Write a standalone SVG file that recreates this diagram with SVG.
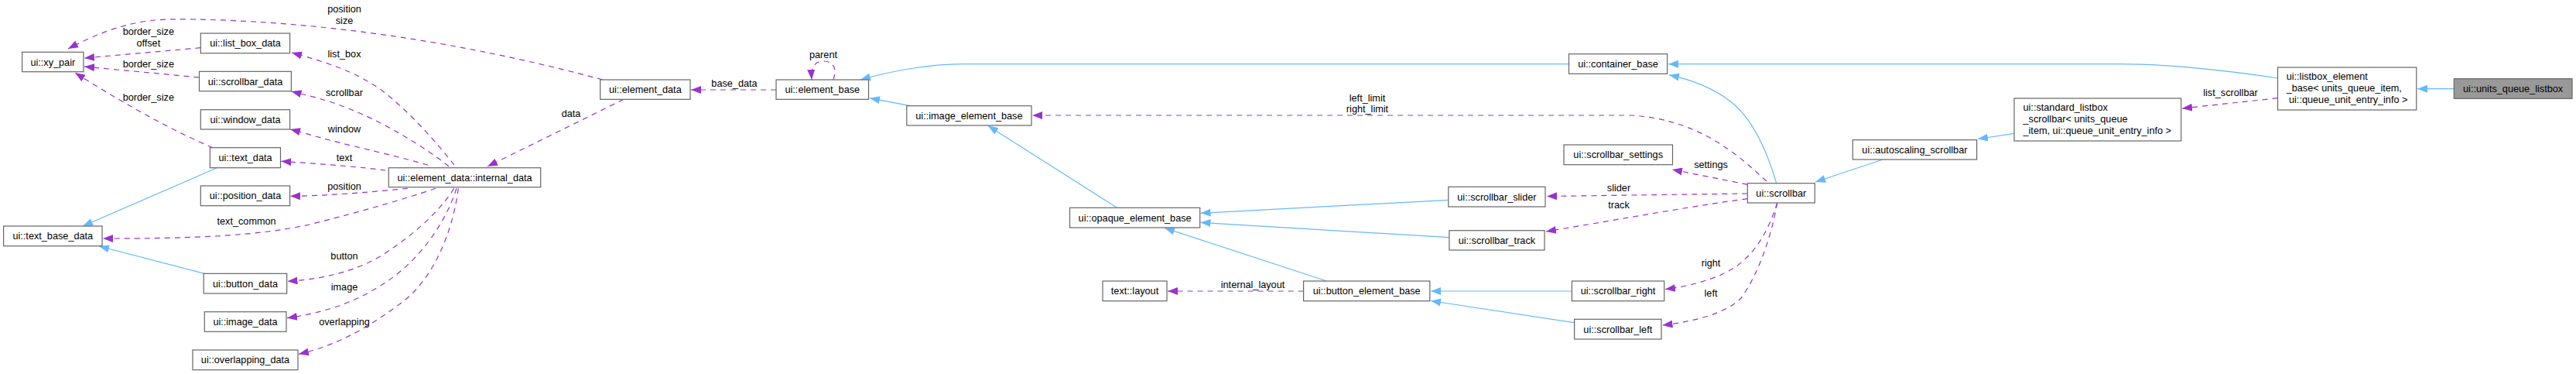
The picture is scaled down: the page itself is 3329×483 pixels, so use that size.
<svg xmlns="http://www.w3.org/2000/svg" width="3329" height="483" viewBox="0 0 3329 483">
<style>
.node rect{fill:#ffffff;stroke:#666666;stroke-width:1.2}
.node.cur rect{fill:#999999}
text{font-family:"Liberation Sans",Arial,Helvetica,sans-serif;font-size:12.7px;fill:#000000}
.c{text-anchor:middle}
.l{text-anchor:start}
.inh{fill:none;stroke:#63b8ff;stroke-width:1.2;marker-end:url(#ab)}
.col{fill:none;stroke:#9a32cd;stroke-width:1.2;stroke-dasharray:7,6;marker-end:url(#ap)}
</style>
<defs>
<marker id="ab" viewBox="0 0 13 10" refX="13" refY="5" markerWidth="13" markerHeight="10" markerUnits="userSpaceOnUse" orient="auto"><path d="M0,0 L13,5 L0,10 z" fill="#63b8ff"/></marker>
<marker id="ap" viewBox="0 0 13 10" refX="13" refY="5" markerWidth="13" markerHeight="10" markerUnits="userSpaceOnUse" orient="auto"><path d="M0,0 L13,5 L0,10 z" fill="#9a32cd"/></marker>
</defs>
<rect x="0" y="0" width="3329" height="483" fill="#ffffff"/>

<g id="edges">
<!-- inheritance -->
<path class="inh" d="M3171.3,114.7 L3124,114.7"/>
<path class="inh" d="M2943.5,101 C2880,91 2800,82.7 2740,82.7 L2156,82.7"/>
<path class="inh" d="M2027.5,82.7 L1244,82.7 C1200,82.7 1150,92 1112,103"/>
<path class="inh" d="M1176,136.7 L1124,126.7"/>
<path class="inh" d="M1443.5,268.3 L1277,162.5"/>
<path class="inh" d="M1871.8,258.3 L1551.5,275.3"/>
<path class="inh" d="M1872.9,306.7 L1551.5,287.3"/>
<path class="inh" d="M1714.6,363 L1505,294.5"/>
<path class="inh" d="M2031.4,376 L1849,376"/>
<path class="inh" d="M2034.6,416.7 L1849,388.5"/>
<path class="inh" d="M2295.7,236.7 C2282,190 2262,150 2235,130 C2215,115 2190,104 2157,96.7"/>
<path class="inh" d="M2433.3,206 L2346,235"/>
<path class="inh" d="M2603,172.3 L2556,179.5"/>
<path class="inh" d="M280.4,216.7 L107,292"/>
<path class="inh" d="M264.3,353.3 L128,318"/>
<!-- collaboration -->
<path class="col" d="M2943.5,126.7 L2820,140"/>
<path class="col" d="M2283,234 C2265,218 2245,198 2210,178 C2180,162 2150,152 2110,149 L1334,149"/>
<path class="col" d="M2258.3,238.3 L2161,219"/>
<path class="col" d="M2258.3,250 L1999,253.5"/>
<path class="col" d="M2258.3,256.7 C2200,264 2100,282 1998,299"/>
<path class="col" d="M2296.7,262 C2285,300 2265,335 2230,352 C2210,362 2182,370 2152,373.5"/>
<path class="col" d="M2296.7,262 C2290,300 2275,350 2250,385 C2230,405 2190,415 2148.5,420"/>
<path class="col" d="M1684.6,376 L1509,376"/>
<path class="col" d="M1003,116 L893,116"/>
<path class="col" d="M1076.8,103 C1082,90 1078,79 1064,79 C1052,79 1048,88 1049,103"/>
<path class="col" d="M806,128.3 L630,215"/>
<path class="col" d="M779,103 C600,55 420,28 250,25 C200,24 160,25 88,63"/>
<path class="col" d="M259.3,61.7 L109,75"/>
<path class="col" d="M257.5,100 L109,86"/>
<path class="col" d="M275,190.7 C230,172 170,140 97,94"/>
<path class="col" d="M587,213 C565,185 530,145 495,118 C460,92 420,80 377,68"/>
<path class="col" d="M580,215 C550,190 490,155 450,140 C420,128 400,124 376.5,118"/>
<path class="col" d="M553,213.3 C520,203 460,190 430,182 C410,177 395,172 375,167"/>
<path class="col" d="M498.3,220 C470,216 420,212 363.3,208.3"/>
<path class="col" d="M526.7,243.3 C480,248 420,253 375,253.3"/>
<path class="col" d="M563,243.3 C520,258 460,275 400,290 C330,305 250,308 133,308"/>
<path class="col" d="M586.7,243.3 C570,270 540,300 493,330 C460,350 420,360 371.5,363.3"/>
<path class="col" d="M590,243.3 C575,290 540,340 490,370 C450,395 410,405 371,410.7"/>
<path class="col" d="M592.3,243.3 C585,300 560,360 520,390 C480,420 440,445 386,457.3"/>
</g>

<g id="edge-labels">
<text class="c" x="445" y="16.2">position</text>
<text class="c" x="445" y="30.5">size</text>
<text class="c" x="191.8" y="45.2">border_size</text>
<text class="c" x="191.8" y="59.8">offset</text>
<text class="c" x="191.8" y="86.8">border_size</text>
<text class="c" x="191.8" y="129.5">border_size</text>
<text class="c" x="445" y="73.5">list_box</text>
<text class="c" x="445" y="123.8">scrollbar</text>
<text class="c" x="445" y="170.5">window</text>
<text class="c" x="445" y="207.8">text</text>
<text class="c" x="445" y="245.2">position</text>
<text class="c" x="318.6" y="289.5">text_common</text>
<text class="c" x="445" y="334.5">button</text>
<text class="c" x="445" y="374.5">image</text>
<text class="c" x="445" y="420.2">overlapping</text>
<text class="c" x="738" y="150.5">data</text>
<text class="c" x="949" y="111.8">base_data</text>
<text class="c" x="1064" y="75.2">parent</text>
<text class="c" x="1767" y="130.5">left_limit</text>
<text class="c" x="1767" y="144.8">right_limit</text>
<text class="c" x="1619" y="371.5">internal_layout</text>
<text class="c" x="2211" y="217.2">settings</text>
<text class="c" x="2092" y="246.8">slider</text>
<text class="c" x="2092" y="268.8">track</text>
<text class="c" x="2211" y="343.8">right</text>
<text class="c" x="2211" y="382.8">left</text>
<text class="c" x="2882.5" y="123.8">list_scrollbar</text>
</g>

<g id="n_xy_pair" class="node"><rect x="28.6" y="67.3" width="79.3" height="25.4"/><text class="c" x="68.3" y="84.5">ui::xy_pair</text></g>
<g id="n_list_box_data" class="node"><rect x="259.3" y="43" width="115.3" height="25.7"/><text class="c" x="317" y="60.4">ui::list_box_data</text></g>
<g id="n_scrollbar_data" class="node"><rect x="257.5" y="92.3" width="118.9" height="25.4"/><text class="c" x="317" y="109.5">ui::scrollbar_data</text></g>
<g id="n_window_data" class="node"><rect x="259.3" y="141.7" width="115.3" height="25.3"/><text class="c" x="317" y="158.8">ui::window_data</text></g>
<g id="n_text_data" class="node"><rect x="271.4" y="190.7" width="91.1" height="26"/><text class="c" x="317" y="208.2">ui::text_data</text></g>
<g id="n_position_data" class="node"><rect x="259.3" y="240" width="115.3" height="25.7"/><text class="c" x="317" y="257.4">ui::position_data</text></g>
<g id="n_text_base_data" class="node"><rect x="4.6" y="292" width="127.4" height="25.7"/><text class="c" x="68.3" y="309.4">ui::text_base_data</text></g>
<g id="n_button_data" class="node"><rect x="263.2" y="353.3" width="107.5" height="25.7"/><text class="c" x="317" y="370.7">ui::button_data</text></g>
<g id="n_image_data" class="node"><rect x="264.3" y="402.7" width="105.7" height="25.6"/><text class="c" x="317" y="420">ui::image_data</text></g>
<g id="n_overlapping_data" class="node"><rect x="249" y="452" width="136" height="25.7"/><text class="c" x="317" y="469.4">ui::overlapping_data</text></g>
<g id="n_internal_data" class="node"><rect x="502.3" y="216.7" width="196.4" height="25"/><text class="c" x="600.5" y="233.7">ui::element_data::internal_data</text></g>
<g id="n_element_data" class="node"><rect x="775.7" y="103" width="116.3" height="25.3"/><text class="c" x="833.8" y="120.2">ui::element_data</text></g>
<g id="n_element_base" class="node"><rect x="1003" y="103" width="119.5" height="25.3"/><text class="c" x="1062.8" y="120.2">ui::element_base</text></g>
<g id="n_image_element_base" class="node"><rect x="1171.8" y="136.7" width="161.2" height="25.3"/><text class="c" x="1252.4" y="153.9">ui::image_element_base</text></g>
<g id="n_opaque_element_base" class="node"><rect x="1382.5" y="268.3" width="168.2" height="25.7"/><text class="c" x="1466.6" y="285.7">ui::opaque_element_base</text></g>
<g id="n_text_layout" class="node"><rect x="1425" y="363" width="83" height="25.7"/><text class="c" x="1466.5" y="380.4">text::layout</text></g>
<g id="n_button_element_base" class="node"><rect x="1684.6" y="363" width="163.2" height="25.7"/><text class="c" x="1766.2" y="380.4">ui::button_element_base</text></g>
<g id="n_container_base" class="node"><rect x="2027.5" y="69.7" width="127.1" height="25.6"/><text class="c" x="2091" y="87">ui::container_base</text></g>
<g id="n_scrollbar_settings" class="node"><rect x="2021" y="187" width="140.5" height="25.7"/><text class="c" x="2091.2" y="204.4">ui::scrollbar_settings</text></g>
<g id="n_scrollbar_slider" class="node"><rect x="1871.8" y="241.3" width="125.2" height="25.7"/><text class="c" x="1934.4" y="258.7">ui::scrollbar_slider</text></g>
<g id="n_scrollbar_track" class="node"><rect x="1872.9" y="297.7" width="123.1" height="25.3"/><text class="c" x="1934.4" y="314.9">ui::scrollbar_track</text></g>
<g id="n_scrollbar_right" class="node"><rect x="2031.4" y="363" width="119.3" height="25.7"/><text class="c" x="2091" y="380.4">ui::scrollbar_right</text></g>
<g id="n_scrollbar_left" class="node"><rect x="2034.6" y="412.3" width="112.4" height="25.7"/><text class="c" x="2090.8" y="429.7">ui::scrollbar_left</text></g>
<g id="n_scrollbar" class="node"><rect x="2258.3" y="236.7" width="87" height="25.3"/><text class="c" x="2301.8" y="253.9">ui::scrollbar</text></g>
<g id="n_autoscaling_scrollbar" class="node"><rect x="2394.3" y="180.7" width="160.3" height="25.3"/><text class="c" x="2474.4" y="197.9">ui::autoscaling_scrollbar</text></g>
<g id="n_standard_listbox_scrollbar" class="node"><rect x="2603" y="127" width="215.7" height="55"/><text class="l" x="2614.5" y="143.2">ui::standard_listbox</text><text class="l" x="2614.5" y="158.2">_scrollbar&lt; units_queue</text><text class="l" x="2614.5" y="172.8">_item, ui::queue_unit_entry_info &gt;</text></g>
<g id="n_listbox_element_base" class="node"><rect x="2943.5" y="87" width="179.3" height="55"/><text class="l" x="2954.7" y="103.2">ui::listbox_element</text><text class="l" x="2954.7" y="118.2">_base&lt; units_queue_item,</text><text class="l" x="2958" y="132.8">ui::queue_unit_entry_info &gt;</text></g>
<g id="n_units_queue_listbox" class="node cur"><rect x="3171.3" y="101.7" width="152.7" height="25.6"/><text class="c" x="3247.6" y="119">ui::units_queue_listbox</text></g>
</svg>
